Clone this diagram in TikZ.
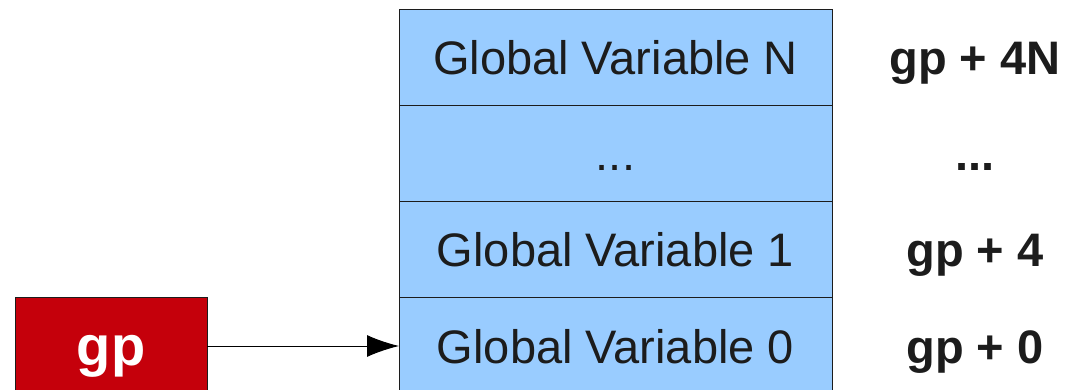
\documentclass[tikz,border=0pt]{standalone}
\usepackage{fontspec}
\setmainfont{Liberation Sans}
\usepackage{xcolor}
\usepackage{tikz}
\usetikzlibrary{arrows.meta,positioning}

\definecolor{cellblue}{HTML}{99CCFF}
\definecolor{regred}{HTML}{C5000B}
\definecolor{inkgray}{HTML}{1C1C1C}
\newcommand{\moredots}{...}

\begin{document}
\begin{tikzpicture}[x=1pt, y=-1pt,
		cell/.style={draw=inkgray, fill=cellblue, line width=1pt, minimum width=433pt, minimum height=96pt, inner sep=0pt, outer sep=0pt, text height=34pt, text depth=0pt, text=inkgray, font=\fontsize{47}{56}\selectfont},
		addr/.style={text height=34pt, text depth=0pt, inner sep=0pt, text=inkgray, font=\fontsize{47}{56}\selectfont\bfseries},
		reg/.style={draw=inkgray, fill=regred, line width=1pt, minimum width=192pt, minimum height=96pt, inner sep=0pt, outer sep=0pt, text height=38pt, text depth=0pt, text=white, font=\fontsize{56}{66}\selectfont\bfseries}]
			\useasboundingbox (0,0) rectangle (1077,390);
			
			% Global area, one cell per variable (top = highest address)
			\foreach \name/\txt/\off [count=\i from 0] in {vN/Global Variable N/gp + 4N, vdots/\moredots/\moredots, v1/Global Variable 1/gp + 4, v0/Global Variable 0/gp + 0} {
				\node[cell] (\name) at (615.5,58+96*\i) {\txt};
				\node[addr] (a\name) at (975,58+96*\i) {\off};
			}
			
			% Register
			\node[reg] (gp) at (111,346) {gp};
			
			% Arrow
			\draw[-{Latex[length=32pt,width=22pt]}, line width=1pt] (gp) -- (v0);
		\end{tikzpicture}
\end{document}
